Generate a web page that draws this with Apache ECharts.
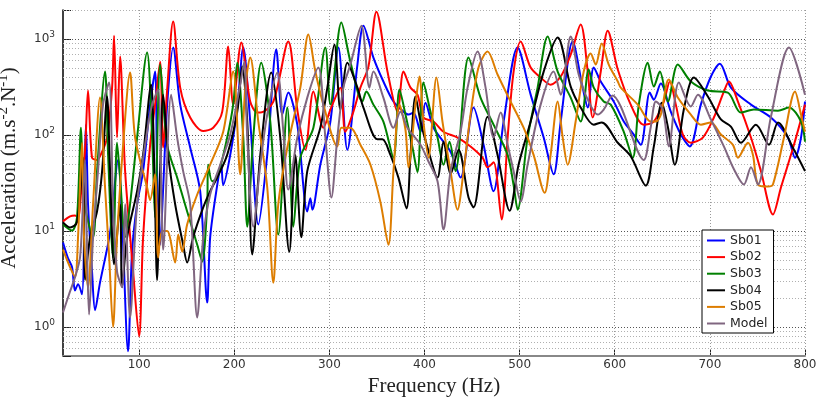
<!DOCTYPE html>
<html>
<head>
<meta charset="utf-8">
<script src="https://cdn.jsdelivr.net/npm/echarts@6/dist/echarts.min.js"></script>
<style>html,body{margin:0;padding:0;background:#fff}#c{width:817px;height:398px}</style>
</head>
<body>
<div id="c"></div>
<script>
// ---- data: [frequency (Hz), acceleration] ----
const seriesNames = ['Sb01','Sb02','Sb03','Sb04','Sb05','Model'];
const xTicks = [100,200,300,400,500,600,700,800];
const yMajor = [1,10,100,1000];
const yMinor = [0.6,0.7,0.8,0.9,2,3,4,5,6,7,8,9,20,30,40,50,60,70,80,90,200,300,400,500,600,700,800,900,2000];

const sb01 = [[20,7.6],[25,5.3],[29.5,4.2],[32.6,2.4],[35.8,2.8],[40,2.2],[44.2,128],[46.3,19],[50.5,3.8],[53.7,1.5],[58.9,2.9],[69.5,9.7],[77.9,55],[82.1,13],[88.4,0.56],[92.6,6.1],[97.9,19],[104.2,42],[111.6,207],[116.8,457],[118.9,42],[122.1,7.2],[125.3,28],[129.5,207],[135.8,812],[143.2,207],[153.7,74],[164.2,26],[171.6,1.8],[174.7,8.6],[182.1,30],[186.3,49],[188.4,30],[195.8,62],[203.2,193],[209.5,812],[216.8,138],[225.3,11.7],[234.7,62],[244.2,774],[250.5,163],[256.8,276],[266.3,128],[276.8,16],[280,22],[282.1,16.7],[290.5,49],[301.1,138],[309.5,812],[318.9,70],[329.5,541],[335.8,1375],[346.3,639],[356.8,360],[367.4,223],[377.9,175],[383.2,163],[388.4,171],[395.8,108],[401,217],[409.5,119],[427.4,67],[437.9,36],[451.6,193],[462.1,79],[472.6,26],[483.2,138],[497.9,812],[511.6,263],[525.3,94],[535.8,39],[543.2,138],[555.8,938],[566.3,311],[571.6,193],[577.9,503],[585.3,360],[598.9,223],[609.5,138],[620,101],[627.4,79],[636.8,276],[641.1,233],[648.4,343],[658.9,175],[669.5,101],[678.9,76],[690.5,207],[701.1,406],[710.5,553],[722.1,311],[743.2,207],[764.2,152],[782.1,94],[789.5,58],[795.8,94],[800,223]];

const sb02 = [[20,12.6],[27.4,14.2],[32.6,14.5],[35.8,13.8],[40,34],[43.2,70],[46.3,290],[50.5,58],[55.8,55],[61.1,67],[66.3,94],[71.6,311],[73.7,1082],[76.8,94],[80,655],[85.3,42],[93.7,3.8],[100,0.8],[104.2,8.6],[111.6,79],[116.8,207],[122.1,580],[125.3,74],[129.5,297],[135.8,1514],[143.2,311],[153.7,152],[167.4,110],[177.9,119],[187.4,175],[193.7,832],[198.9,207],[207.4,916],[216.8,223],[224.2,171],[227.4,171],[241.1,223],[256.8,938],[266.3,184],[274.7,70],[283.2,283],[293.7,119],[301.1,184],[311.6,311],[316.8,108],[325.3,175],[332.6,311],[341.1,515],[349.5,1923],[361.1,457],[371.6,175],[377.9,457],[385.3,311],[392.6,263],[398.9,152],[409.5,138],[420,108],[434.7,94],[448.4,76],[461.1,58],[466.3,46],[472.6,52],[481.1,13.2],[487.4,94],[493.7,457],[501.1,938],[511.6,503],[522.1,396],[532.6,334],[543.2,406],[553.7,687],[564.2,1409],[571.6,457],[576.8,152],[585.3,457],[592.6,1219],[603.2,480],[616.8,207],[630.5,128],[641.1,138],[651.6,223],[657.9,360],[664.2,207],[671.6,101],[680,83],[692.6,94],[704.2,152],[714.7,283],[720,360],[729.5,223],[743.2,94],[753.7,42],[766.3,14.9],[774.7,28.4],[788.4,79],[800,207]];

const sb03 = [[20,11.7],[29.5,10.1],[34.7,13.8],[38.9,119],[42.1,21],[51.6,8.6],[55.8,42],[64.2,457],[67.4,62],[72.6,5.3],[76.8,83],[80,36],[85.3,8.6],[90.5,19],[97.9,94],[108.4,720],[113.7,94],[116.8,13.8],[122.1,541],[129.5,79],[140,36],[150.5,16],[161.1,7.2],[166.3,4.8],[171.6,19],[172.6,49],[176.8,33],[182.1,36],[192.6,94],[198.9,207],[203.2,566],[209.5,94],[213.7,11.1],[220,94],[228.4,566],[237.9,138],[246.3,9.2],[255.8,193],[262.1,11.1],[269.5,58],[283.2,119],[295.8,812],[301.1,207],[312.6,1478],[322.1,580],[334.7,223],[338.9,283],[346.3,207],[356.8,138],[367.4,58],[373.7,297],[380,163],[387.4,74],[392.6,41],[398.9,351],[406.3,175],[413.7,94],[420,49],[426.3,85],[432.6,42],[446.3,639],[458.9,245],[472.6,128],[487.4,62],[493.7,30],[497.9,16.7],[508.4,94],[518.9,311],[529.5,1057],[540,457],[553.7,245],[564.2,138],[572.6,480],[577.9,311],[588.4,223],[595.8,207],[609.5,108],[618.9,58],[625.3,207],[634.7,566],[641.1,319],[647.4,457],[655.8,223],[666.3,541],[680,360],[697.9,290],[718.9,276],[732.6,171],[746.3,184],[771.6,179],[783.2,193],[795.8,138],[800,85]];

const sb04 = [[20,12.3],[27.4,10.9],[34.7,12.3],[41.1,58],[43.2,3.1],[48.4,8.6],[55.8,16],[61.1,42],[66.3,251],[69.5,42],[73.7,4.5],[80,19],[82.1,2.6],[87.4,8.6],[97.9,26],[104.2,62],[112.6,334],[115.8,55],[118.9,3.1],[122.1,42],[125.3,263],[130.5,62],[137.9,19],[146.3,7.2],[150.5,4.7],[156.8,8.6],[167.4,17.6],[174.7,26],[182.1,36],[192.6,62],[203.2,175],[208.4,515],[213.7,138],[218.9,5.7],[227.4,62],[238.9,446],[248.4,94],[257.9,6.1],[264.2,62],[270.5,8.6],[276.8,42],[290.5,119],[297.9,311],[305.3,873],[311.6,184],[318.9,566],[329.5,311],[335.8,193],[350.5,90],[355.8,90],[364.2,62],[372.6,36],[381.1,17.2],[385.3,62],[390.5,251],[395.8,138],[403.2,74],[413.7,36],[420,85],[427.4,39],[435.8,70],[446.3,22.3],[451.6,17.6],[466.3,155],[476.8,62],[489.5,16.3],[498.9,49],[511.6,138],[525.3,457],[540,1032],[553.7,319],[564.2,193],[577.9,128],[586.3,135],[603.2,83],[616.8,60],[632.6,29.7],[641.1,76],[649.5,217],[655.8,122],[663.2,49],[672.6,184],[683.2,396],[697.9,251],[711.6,145],[722.1,122],[732.6,83],[748.4,128],[762.1,79],[771.6,135],[788.4,70],[800,42]];

const sb05 = [[20,6.4],[27.4,4.2],[32.6,3.3],[35.8,8.6],[40,83],[42.1,8.6],[46.3,2.6],[51.6,19],[58.9,245],[64.2,28.4],[68.4,5.7],[72.6,1.0],[76.8,8.6],[83.2,79],[90.5,446],[95.8,94],[108.4,28.4],[111.6,21],[116.8,39],[120,5.3],[124.2,10],[129.5,10],[137.9,4.7],[141.1,9.2],[145.3,6.1],[150.5,11.7],[161.1,24],[174.7,49],[188.4,108],[198.9,457],[206.3,39],[211.6,311],[216.8,639],[225.3,138],[234.7,28.4],[241.1,2.9],[246.3,19],[255.8,74],[269.5,311],[277.9,1109],[285.3,457],[293.7,207],[308.4,76],[312.6,119],[322.1,119],[332.6,79],[343.2,49],[353.7,20],[362.1,7.2],[367.4,42],[373.7,207],[380,114],[383.2,46],[390.5,207],[394.7,406],[398.9,138],[404.2,58],[412.6,396],[418.9,138],[427.4,42],[434.7,16.7],[441.1,42],[448.4,163],[456.8,503],[466.3,738],[476.8,426],[490.5,223],[504.2,119],[514.7,62],[526.3,25],[532.6,62],[540,223],[545.3,94],[550.5,49],[558.9,138],[567.4,457],[574.7,703],[580,541],[586.3,894],[593.7,541],[603.2,360],[606.3,311],[624.2,207],[637.9,138],[643.2,138],[648.4,163],[656.8,377],[666.3,245],[680,163],[690.5,128],[701.1,135],[711.6,101],[724.2,79],[729.5,58],[740,83],[745.3,62],[750.5,30.5],[761.1,29],[766.3,30.5],[777.9,94],[789.5,283],[795.8,163],[800,108]];

const model = [[20,1.42],[27.4,2.35],[32.6,3.3],[37.9,5.3],[41.1,21],[43.2,55],[45.3,6.4],[47.4,1.35],[51.6,8.6],[56.8,42],[62.1,207],[68.4,351],[72.6,19],[76.8,3.8],[82.1,2.6],[85.3,19],[90.5,1.26],[97.9,19],[108.4,108],[113.7,207],[120,297],[125.3,6.4],[133.7,263],[140,94],[146.3,42],[153.7,19],[161.1,1.26],[167.4,8.6],[174.7,24],[185.3,49],[195.8,101],[206.3,334],[210.5,580],[213.7,94],[220,11.1],[227.4,49],[234.7,163],[245.3,446],[251.6,108],[256.8,27],[266.3,94],[276.8,245],[288.4,503],[295.8,94],[302.1,22.3],[308.4,94],[314.7,311],[322.1,541],[333.7,1375],[342.1,311],[346.3,457],[356.8,245],[367.4,119],[374.7,175],[382.1,119],[395.8,79],[404.2,53],[413.7,33],[420,10.4],[427.4,42],[437.9,108],[445.3,311],[455.8,738],[464.2,311],[472.6,94],[480,171],[487.4,79],[493.7,42],[501.1,20.3],[508.4,49],[522.1,207],[535.8,457],[543.2,263],[553.7,1057],[562.1,426],[571.6,233],[582.1,163],[588.4,184],[597.9,257],[606.3,198],[630.5,55],[637.9,122],[643.2,223],[650.5,184],[656.8,76],[667.4,351],[680,198],[687.4,263],[701.1,145],[714.7,76],[725.3,44],[735.8,30.5],[743.2,46],[750.5,30.5],[764.2,155],[783.2,812],[800,263]];

const seriesData = [sb01, sb02, sb03, sb04, sb05, model];
const colors = ['#0000ff','#ff0000','#008000','#000000','#dd7d00','#806680'];

const chart = echarts.init(document.getElementById('c'), null, {renderer:'canvas'});

const gridLines = [];
yMinor.forEach(v => gridLines.push({yAxis: v, lineStyle: {color:'#b0b0b0', type:[1,2], width:1}}));
yMajor.forEach(v => gridLines.push({yAxis: v, lineStyle: {color:'#555', type:[1,2], width:1}}));
xTicks.forEach(v => gridLines.push({xAxis: v, lineStyle: {color:'#999', type:[1,2], width:1}}));

const series = [{
  name: 'grid', type: 'line', data: [], z: 1, silent: true,
  markLine: {z: 1, silent: true, symbol: ['none','none'], label: {show:false}, animation:false, data: gridLines}
}];
seriesNames.forEach((n, i) => series.push({
  name: n, type: 'line', data: seriesData[i], showSymbol: false, symbol: 'none',
  smooth: 0.3, z: 2,
  lineStyle: {color: colors[i], width: 2, type: 'solid'}, itemStyle: {color: colors[i]}
}));

chart.setOption({
  animation: false,
  backgroundColor: '#fff',
  grid: {left: 63, right: 12, top: 10, bottom: 42, containLabel: false, outerBoundsMode: 'none'},
  legend: {
    z: 10,
    data: seriesNames,
    orient: 'vertical', left: 702, top: 230,
    itemWidth: 18, itemHeight: 14, itemGap: 3.6, padding: [4,6,3,4],
    itemStyle: {opacity: 0},
    lineStyle: {width: 2, type: 'solid'},
    borderColor: '#000', borderWidth: 1, backgroundColor: '#fff',
    textStyle: {fontFamily: 'DejaVu Sans', fontSize: 12.5, color: '#222'}
  },
  xAxis: {
    type: 'value', min: 20, max: 800,
    name: 'Frequency (Hz)', nameLocation: 'middle', nameGap: 17,
    nameTextStyle: {fontFamily: 'Liberation Serif', fontSize: 21, color: '#222'},
    axisLine: {show: true, onZero: false, lineStyle: {color: '#888', width: 2}},
    axisTick: {show: true, inside: true, length: 6, customValues: xTicks, lineStyle: {color:'#222'}},
    axisLabel: {customValues: xTicks, margin: 3, fontFamily: 'DejaVu Sans', fontSize: 12, color: '#333'},
    splitLine: {show: false}
  },
  yAxis: {
    type: 'log', logBase: 10, min: 0.5, max: 2000,
    name: 'Acceleration (m.s{sup|-2}.N{sup|-1})', nameLocation: 'middle', nameGap: 17, nameRotate: 90,
    nameTextStyle: {fontFamily: 'Liberation Serif', fontSize: 21, color: '#222', lineHeight: 28, padding: [0,0,0,30],
      rich: {sup: {fontFamily: 'Liberation Serif', fontSize: 15, lineHeight: 15, verticalAlign: 'top', color:'#222'}}},
    axisLine: {show: true, lineStyle: {color: '#000', width: 1.5}},
    axisTick: {show: true, inside: true, length: 8, lineStyle: {color:'#222'}},
    axisLabel: {
      margin: 8, fontFamily: 'DejaVu Sans', fontSize: 12, color: '#333',
      formatter: function (v) {
        const e = Math.round(Math.log10(v));
        if (Math.abs(Math.log10(v) - e) > 1e-6) return '';
        return '{b|10}{sup|' + e + '}';
      },
      rich: {
        b: {fontFamily: 'DejaVu Sans', fontSize: 12, lineHeight: 18, color: '#333'},
        sup: {fontFamily: 'DejaVu Sans', fontSize: 9, lineHeight: 9, verticalAlign: 'top', color: '#333'}
      }
    },
    splitLine: {show: false}
  },
  series: series
});
</script>
</body>
</html>
